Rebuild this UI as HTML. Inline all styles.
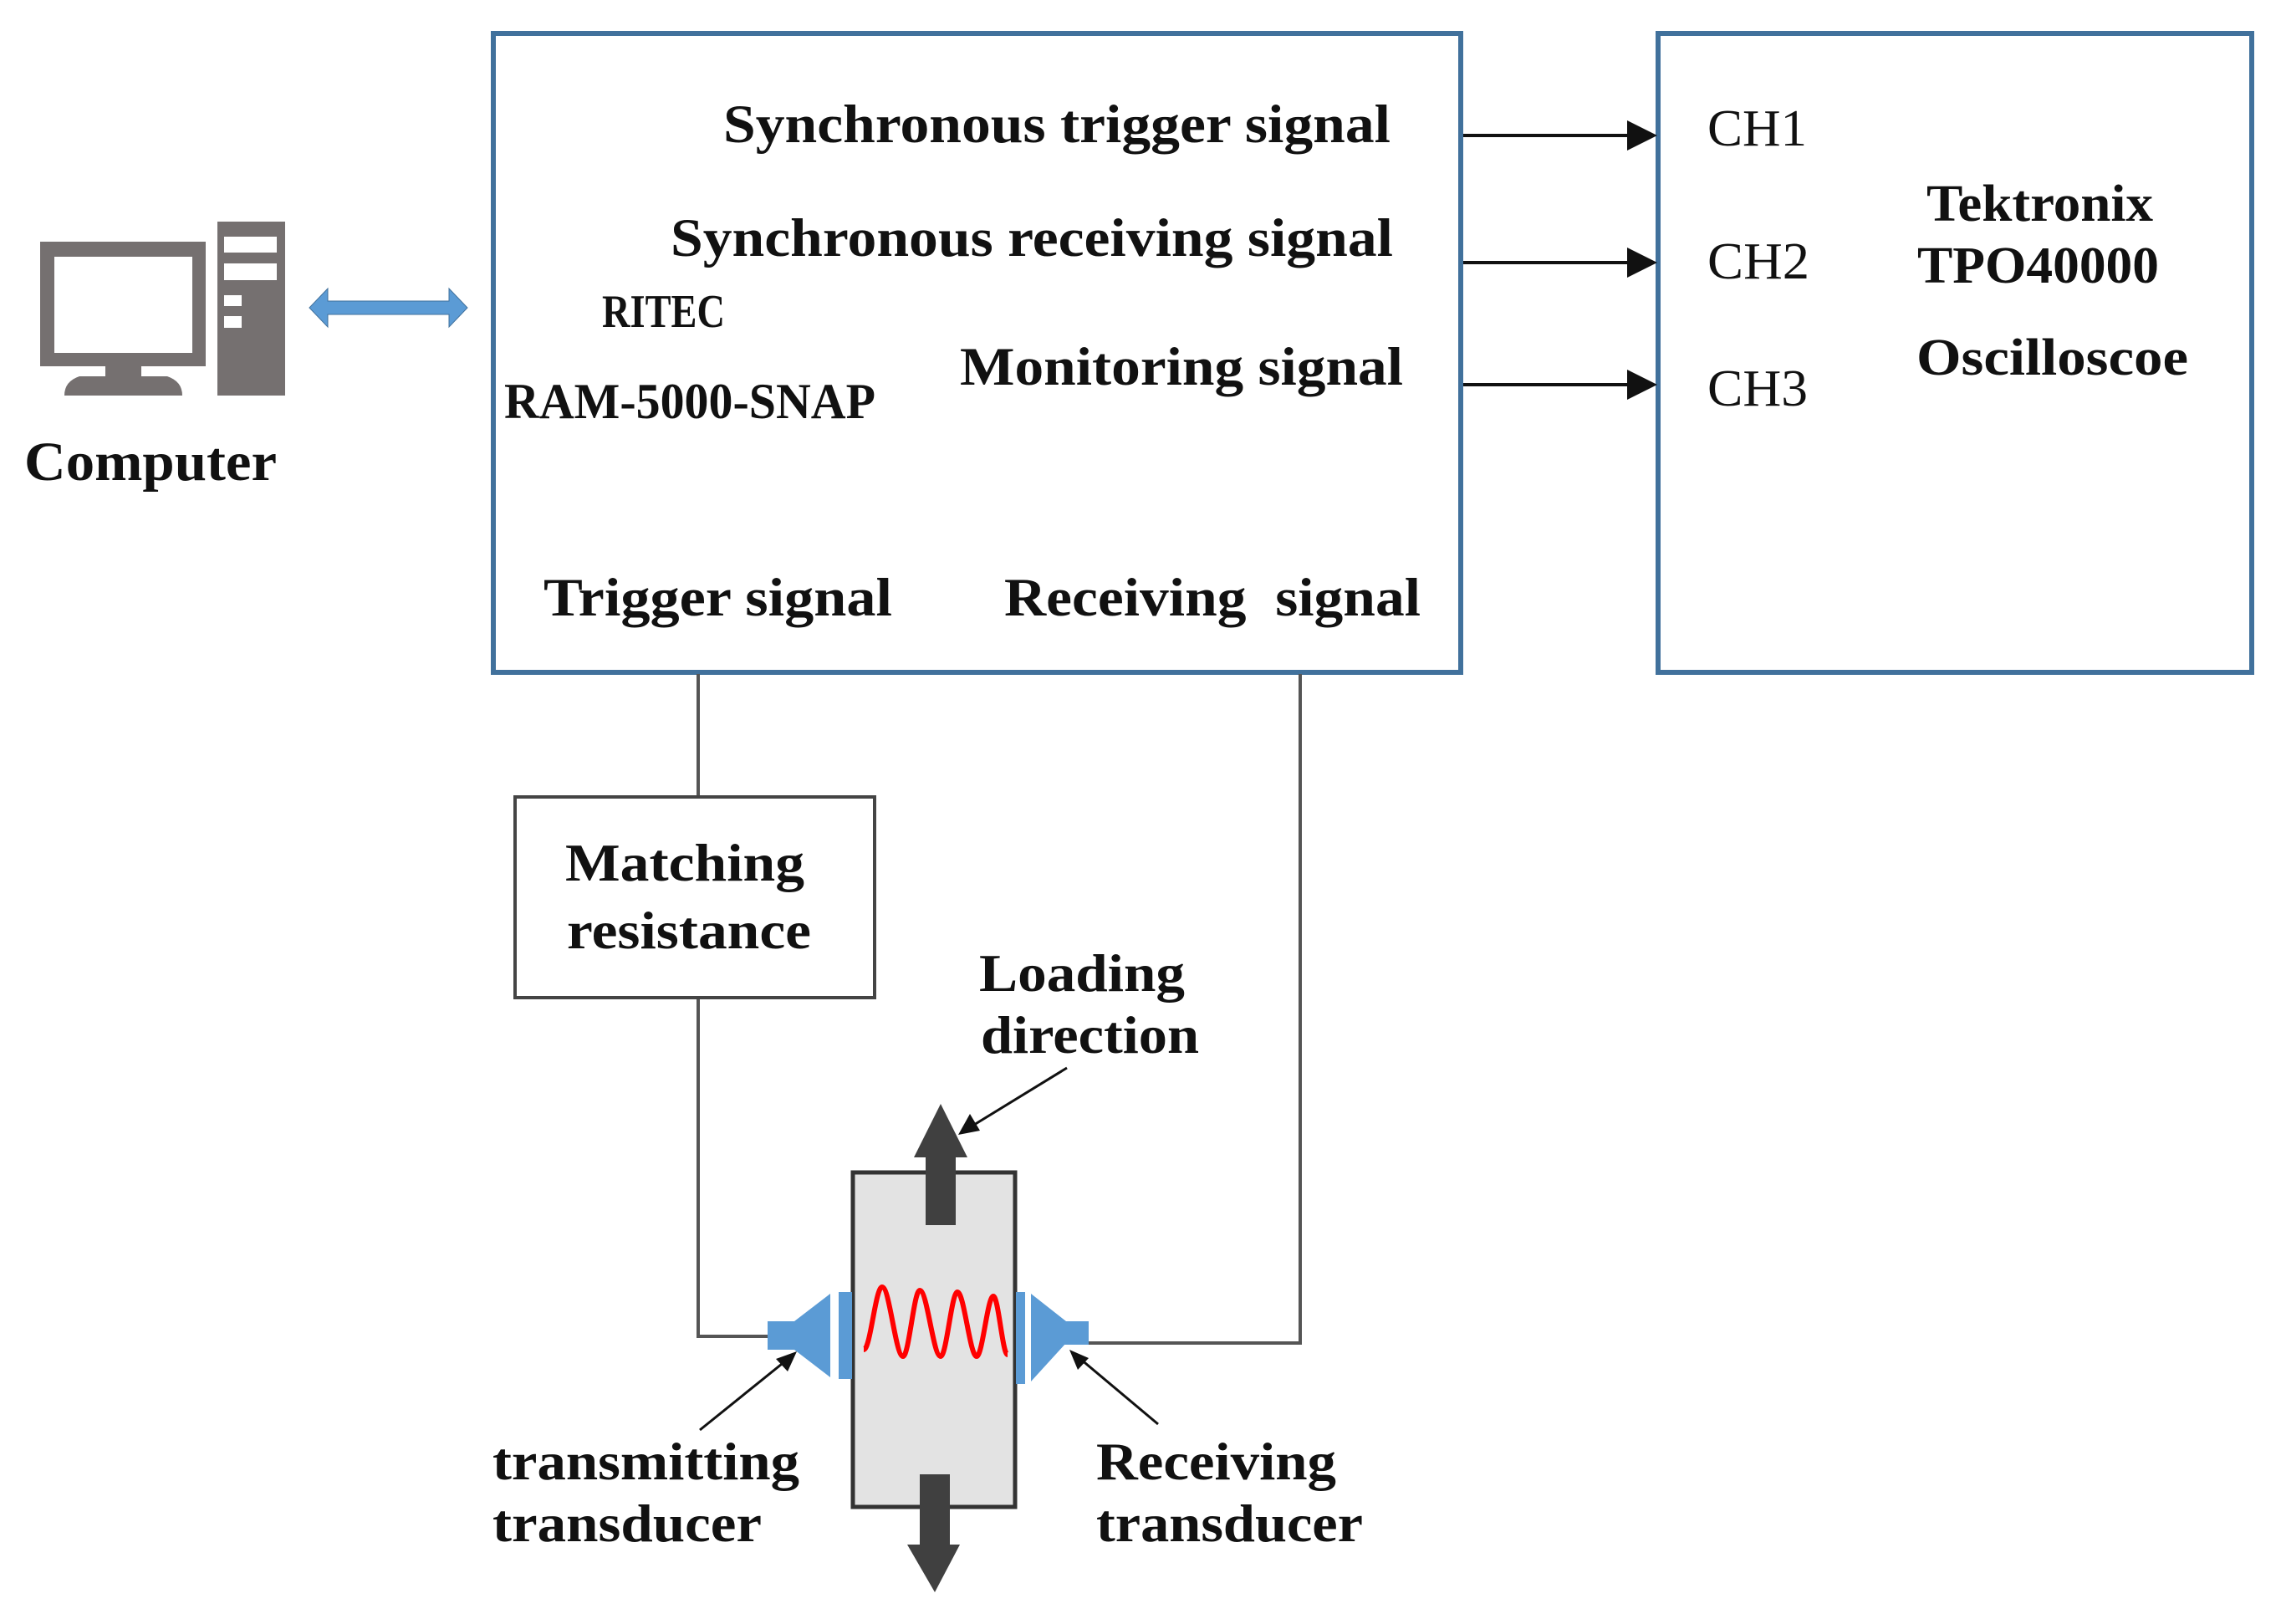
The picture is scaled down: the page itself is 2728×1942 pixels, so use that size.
<!DOCTYPE html>
<html><head><meta charset="utf-8"><style>
html,body{margin:0;padding:0;background:#fff;}
svg{display:block;}
text{font-family:"Liberation Serif",serif;fill:#111;}
.b{font-weight:bold;}
</style></head><body>
<svg width="2728" height="1942" viewBox="0 0 2728 1942" xmlns="http://www.w3.org/2000/svg">
<!-- computer icon -->
<g fill="#757070">
<rect x="48" y="289" width="198" height="149"/>
<rect x="126" y="436" width="43" height="16"/>
<path d="M95,450 L200,450 Q218,456 218,473 L77,473 Q77,456 95,450z"/>
<rect x="260" y="265" width="81" height="208"/>
</g>
<g fill="#fff">
<rect x="65" y="307" width="165" height="115"/>
<rect x="268" y="283" width="63" height="19"/>
<rect x="268" y="315" width="63" height="20"/>
<rect x="268" y="353" width="21" height="13"/>
<rect x="268" y="378" width="21" height="14"/>
</g>
<text class="b" x="29" y="574" font-size="66" textLength="302" lengthAdjust="spacingAndGlyphs">Computer</text>
<!-- double arrow -->
<path d="M370,368 L392,345 L392,360 L537,360 L537,345 L559,368 L537,391 L537,376 L392,376 L392,391 z" fill="#5b9bd5" stroke="#41719c" stroke-width="1"/>
<!-- boxes -->
<rect x="590" y="40" width="1157" height="764" fill="none" stroke="#41719c" stroke-width="6"/>
<rect x="1983" y="40" width="710" height="764" fill="none" stroke="#41719c" stroke-width="6"/>
<text class="b" x="865" y="170" font-size="65" textLength="798" lengthAdjust="spacingAndGlyphs">Synchronous trigger signal</text>
<text class="b" x="802" y="306" font-size="65" textLength="864" lengthAdjust="spacingAndGlyphs">Synchronous receiving signal</text>
<text x="720" y="391" font-size="56" textLength="147" lengthAdjust="spacingAndGlyphs" style="font-weight:600">RITEC</text>
<text class="b" x="1148" y="460" font-size="65" textLength="530" lengthAdjust="spacingAndGlyphs">Monitoring signal</text>
<text x="603" y="500" font-size="60" textLength="444" lengthAdjust="spacingAndGlyphs" style="font-weight:600">RAM-5000-SNAP</text>
<text class="b" x="650" y="736" font-size="65" textLength="417" lengthAdjust="spacingAndGlyphs">Trigger signal</text>
<text class="b" x="1201" y="736" font-size="65" textLength="498" lengthAdjust="spacingAndGlyphs" style="white-space:pre">Receiving  signal</text>
<!-- channel arrows -->
<g stroke="#111" stroke-width="4">
<line x1="1750" y1="162" x2="1950" y2="162"/>
<line x1="1750" y1="314" x2="1950" y2="314"/>
<line x1="1750" y1="460" x2="1950" y2="460"/>
</g>
<g fill="#111">
<path d="M1946,144 L1982,162 L1946,180z"/>
<path d="M1946,296 L1982,314 L1946,332z"/>
<path d="M1946,442 L1982,460 L1946,478z"/>
</g>
<text x="2042" y="174" font-size="62" textLength="119" lengthAdjust="spacingAndGlyphs">CH1</text>
<text x="2042" y="333" font-size="62" textLength="122" lengthAdjust="spacingAndGlyphs">CH2</text>
<text x="2042" y="485" font-size="62" textLength="120" lengthAdjust="spacingAndGlyphs">CH3</text>
<text class="b" x="2304" y="264" font-size="62" textLength="271" lengthAdjust="spacingAndGlyphs">Tektronix</text>
<text class="b" x="2293" y="338" font-size="62" textLength="289" lengthAdjust="spacingAndGlyphs">TPO40000</text>
<text class="b" x="2292" y="448" font-size="62" textLength="325" lengthAdjust="spacingAndGlyphs">Oscilloscoe</text>
<!-- wires -->
<g stroke="#555" stroke-width="4" fill="none">
<polyline points="835,806 835,953"/>
<polyline points="835,1193 835,1598 922,1598"/>
<polyline points="1555,806 1555,1606 1300,1606"/>
</g>
<rect x="616" y="953" width="430" height="240" fill="#fff" stroke="#444" stroke-width="4"/>
<text class="b" x="676" y="1053" font-size="64" textLength="286" lengthAdjust="spacingAndGlyphs">Matching</text>
<text class="b" x="678" y="1134" font-size="64" textLength="292" lengthAdjust="spacingAndGlyphs">resistance</text>
<!-- specimen -->
<rect x="1020" y="1402" width="194" height="400" fill="#e3e3e3" stroke="#333" stroke-width="5"/>
<g fill="#404040">
<path d="M1107,1465 L1107,1384 L1093,1384 L1125,1320 L1157,1384 L1143,1384 L1143,1465z"/>
<path d="M1100,1763 L1136,1763 L1136,1847 L1148,1847 L1118,1904 L1085,1847 L1100,1847z"/>
</g>
<g fill="#5b9bd5">
<rect x="918" y="1580" width="34" height="34"/>
<path d="M950,1580 L993,1547 L993,1647 L950,1614z"/>
<rect x="1003" y="1545" width="16" height="104"/>
<rect x="1215" y="1545" width="11" height="110"/>
<path d="M1233,1547 L1275,1580 L1275,1606 L1233,1652z"/>
<rect x="1273" y="1580" width="29" height="28"/>
</g>
<path d="M1033,1614 C1041,1614 1047,1539 1055,1539 C1064,1539 1071,1622 1080,1622 C1087,1622 1093,1543 1100,1543 C1109,1543 1116,1622 1125,1622 C1132,1622 1138,1545 1145,1545 C1153,1545 1160,1622 1168,1622 C1175,1622 1181,1550 1188,1550 C1194,1550 1199,1620 1205,1620" fill="none" stroke="#f00" stroke-width="6"/>
<!-- pointer arrows -->
<g stroke="#111" stroke-width="3">
<line x1="1276" y1="1277" x2="1165" y2="1345"/>
<line x1="837" y1="1710" x2="940" y2="1627"/>
<line x1="1385" y1="1703" x2="1292" y2="1625"/>
</g>
<g fill="#111">
<path d="M1146,1357 L1160,1332 L1172,1352z"/>
<path d="M953,1616 L928,1625 L942,1640z"/>
<path d="M1279,1614 L1289,1638 L1302,1624z"/>
</g>
<text class="b" x="1171" y="1185" font-size="64" textLength="246" lengthAdjust="spacingAndGlyphs">Loading</text>
<text class="b" x="1173" y="1259" font-size="64" textLength="261" lengthAdjust="spacingAndGlyphs">direction</text>
<text class="b" x="589" y="1769" font-size="64" textLength="367" lengthAdjust="spacingAndGlyphs">transmitting</text>
<text class="b" x="589" y="1843" font-size="64" textLength="322" lengthAdjust="spacingAndGlyphs">transducer</text>
<text class="b" x="1311" y="1769" font-size="64" textLength="287" lengthAdjust="spacingAndGlyphs">Receiving</text>
<text class="b" x="1311" y="1843" font-size="64" textLength="319" lengthAdjust="spacingAndGlyphs">transducer</text>
</svg>
</body></html>
